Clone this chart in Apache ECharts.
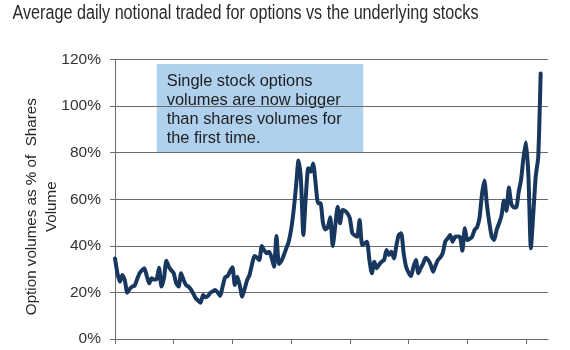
<!DOCTYPE html>
<html>
<head>
<meta charset="utf-8">
<script src="https://cdn.jsdelivr.net/npm/echarts@6/dist/echarts.min.js"></script>
<style>
html,body{margin:0;padding:0;background:#fff;}
#chart{width:570px;height:350px;}
</style>
</head>
<body>
<div id="chart"></div>
<script>
// Half-monthly observations; x-axis ticks every 24 observations (one year)
const optionShareRatio = [
  34.6, 28.2, 24.6, 27.5, 25.3, 19.9, 21.5, 22.5, 22.8, 25.5,
  28.2, 29.5, 30.4, 27.0, 23.9, 26.1, 25.5, 25.6, 30.6, 22.5,
  26.1, 33.6, 31.0, 29.5, 28.2, 24.0, 22.5, 28.2, 25.5, 23.2,
  22.5, 21.3, 19.5, 17.5, 16.5, 15.6, 18.9, 17.9, 18.5, 19.9,
  20.5, 21.0, 20.0, 18.5, 22.5, 26.5, 27.0, 29.0, 30.8, 23.2,
  26.7, 23.0, 18.2, 21.5, 25.3, 27.5, 32.0, 35.6, 35.0, 33.9,
  39.9, 38.0, 36.8, 37.5, 35.0, 31.0, 44.2, 32.2, 33.5, 36.0,
  38.9, 41.8, 47.0, 55.0, 65.4, 76.6, 68.3, 44.7, 61.1, 73.3,
  71.8, 75.4, 66.9, 58.3, 58.3, 50.0, 47.0, 48.0, 52.3, 39.9,
  48.2, 56.8, 49.7, 55.4, 55.0, 54.0, 51.8, 45.4, 44.5, 43.9,
  51.1, 40.4, 41.0, 41.8, 33.9, 28.2, 33.2, 30.4, 32.0, 33.2,
  33.9, 38.2, 36.1, 37.5, 34.6, 40.0, 44.7, 45.4, 36.8, 31.0,
  28.5, 27.0, 31.0, 33.9, 28.2, 30.5, 32.5, 34.9, 34.0, 32.0,
  28.9, 31.5, 33.9, 35.0, 37.0, 41.8, 43.2, 44.7, 41.8, 43.9,
  44.0, 43.9, 37.9, 47.5, 42.5, 43.0, 43.9, 46.8, 48.0, 52.0,
  62.0, 68.0, 58.0, 50.0, 44.0, 42.5, 46.8, 49.7, 53.0, 59.5,
  55.0, 65.0, 58.0, 56.5, 56.5, 63.0, 68.5, 78.0, 84.5, 70.0,
  39.0, 54.0, 70.0, 78.0, 114.0
];
const totalPeriods = 178;
const periodsPerTick = 24;
const yTicks = [0, 20, 40, 60, 80, 100, 120];

const titleText = 'Average daily notional traded for options vs the underlying stocks';
const yAxisTitle = 'Option volumes as % of  Shares\nVolume';
const noteText = 'Single stock options\nvolumes are now bigger\nthan shares volumes for\nthe first time.';

const categories = [];
for (let i = 0; i < totalPeriods; i++) categories.push(String(i));
const seriesData = categories.map((c, i) => i < optionShareRatio.length ? optionShareRatio[i] : null);

// fit the condensed-looking title to its width in the reference
const titleFont = '20px "Liberation Sans", Arial, sans-serif';
const mc = document.createElement('canvas').getContext('2d');
mc.font = titleFont;
const titleScale = 466 / mc.measureText(titleText).width;

const chart = echarts.init(document.getElementById('chart'), null, {renderer: 'canvas'});
const gridCol = '#6b6b6b';
chart.setOption({
  animation: false,
  backgroundColor: '#ffffff',
  grid: {left: 115, top: 59.5, right: 22, bottom: 11, containLabel: false},
  xAxis: {
    type: 'category',
    data: categories,
    boundaryGap: false,
    axisLine: {show: true, lineStyle: {color: gridCol, width: 1}},
    axisTick: {show: true, length: 5, interval: (i) => i % periodsPerTick === 0, lineStyle: {color: gridCol}},
    axisLabel: {show: false},
    splitLine: {show: false}
  },
  yAxis: {
    type: 'value',
    min: yTicks[0], max: yTicks[yTicks.length - 1], interval: 20,
    axisLine: {show: true, lineStyle: {color: gridCol, width: 1}},
    axisTick: {show: true, length: 5, lineStyle: {color: gridCol}},
    axisLabel: {
      formatter: '{value}%', margin: 14,
      fontFamily: 'Arial, "Liberation Sans", sans-serif', fontSize: 15.5, color: '#333333'
    },
    splitLine: {show: true, lineStyle: {color: gridCol, width: 1}}
  },
  series: [{
    type: 'line',
    data: seriesData,
    showSymbol: false,
    symbol: 'none',
    smooth: 0.2,
    connectNulls: false,
    lineStyle: {color: '#17375e', width: 4, join: 'round', cap: 'round'},
    z: 3
  }],
  graphic: [{
    type: 'text',
    x: 12.5, y: 3,
    scaleX: titleScale,
    style: {
      text: titleText,
      font: titleFont,
      fill: '#2a2a2a',
      textVerticalAlign: 'top'
    }
  }, {
    type: 'text',
    x: 41.7, y: 206.7,
    rotation: Math.PI / 2,
    style: {
      text: yAxisTitle,
      fontFamily: 'Arial, "Liberation Sans", sans-serif',
      fontSize: 15.2, lineHeight: 20,
      fill: '#262626',
      align: 'center',
      verticalAlign: 'middle'
    }
  }, {
    type: 'group',
    left: 156.7, top: 64,
    z: 10,
    children: [{
      type: 'rect',
      shape: {x: 0, y: 0, width: 206.6, height: 88.7},
      style: {fill: '#b0d1ee'}
    }, {
      type: 'text',
      x: 10, y: 8,
      style: {
        text: noteText,
        fontFamily: 'Arial, "Liberation Sans", sans-serif',
        fontSize: 16.4, lineHeight: 18.9,
        fill: '#1e1e1e'
      }
    }]
  }]
});
</script>
</body>
</html>
